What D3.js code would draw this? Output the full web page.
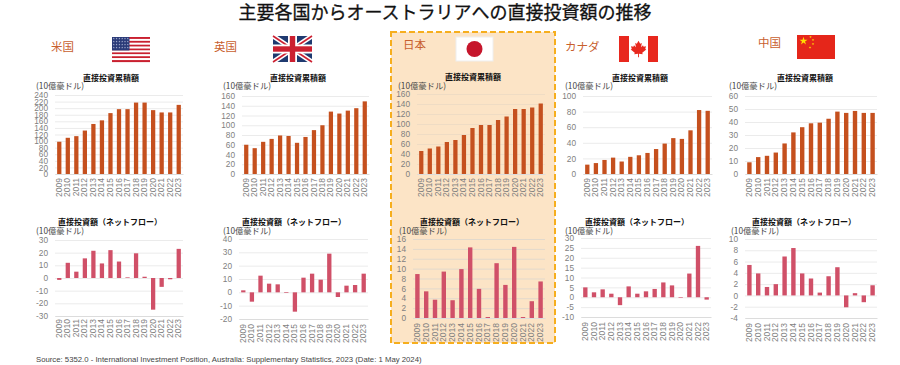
<!DOCTYPE html>
<html><head><meta charset="utf-8">
<script src="https://cdn.jsdelivr.net/npm/d3@7"></script>
<style>
html,body{margin:0;padding:0;background:#fff}
svg{display:block}
text{font-family:"Liberation Sans",Arial,sans-serif}
.jp{font-family:"Noto Sans CJK JP","Liberation Sans",sans-serif}
</style></head><body>
<svg id="c" width="900" height="365"></svg>
<script>
const years = ["2009","2010","2011","2012","2013","2014","2015","2016","2017","2018","2019","2020","2021","2022","2023"];
const usStock = [98,110,115,132,152,163,185,197,197,217,217,194,187,187,210];
const ukStock = [60,53,66,72,79,78,64,76,90,100,128,124,130,135,149];
const jpStock = [46,51,55,64,68,78,92,98,98,108,115,130,130,133,141];
const caStock = [12,14,18,21,16,22,24,27,32,39,46,45,56,82,81];
const cnStock = [9,13,14,16.5,23.5,32,36,39,39.5,42.5,48,47,48.5,47,47];
const usFlow = [-1.5,12,5,15.5,21.5,11.5,22,13,0.5,19.5,1,-25,-7,-1,23];
const ukFlow = [1.5,-7,12.5,6.5,6,-0.5,-14.5,11,14,9.5,29,-3.5,5,5.5,14];
const jpFlow = [8.9,5.4,3.7,9.4,3.6,9.9,14.3,5.9,0.2,11.1,6.7,14.4,0.2,3.4,7.4];
const caFlow = [5,2.5,4,1.8,-4,5.5,1.8,3,4.2,7.5,6,-0.3,12,26,-1.2];
const cnFlow = [5.4,3.9,1.5,2,6.9,8.4,3.9,3,0.5,3.4,5,-2.1,0.4,-1.2,1.8];
const stockTitle = "直接投資累積額";
const flowTitle = "直接投資額（ネットフロー）";
const unitLabel = "(10億豪ドル)";
const mainTitle = "主要各国からオーストラリアへの直接投資額の推移";
const sourceText = "Source: 5352.0 - International Investment Position, Australia: Supplementary Statistics, 2023 (Date: 1 May 2024)";

const stockColor = "#c5501e", flowColor = "#d05068";
const svg = d3.select("#c");

// layout
const panels = [
 {v:usStock,x0:55,x1:183,yT:95,yB:174,dom:[0,240],step:20,t:stockTitle,c:stockColor,tx:111,ty:78,ux:36,uy:86,gap:4},
 {v:ukStock,x0:242,x1:369,yT:96,yB:174,dom:[0,160],step:20,t:stockTitle,c:stockColor,tx:298,ty:78,ux:223,uy:86,gap:4},
 {v:jpStock,x0:417,x1:545,yT:94,yB:174,dom:[0,160],step:20,t:stockTitle,c:stockColor,tx:473,ty:77,ux:398,uy:86,gap:4,grid:"#efdcc4"},
 {v:caStock,x0:583,x1:712,yT:96,yB:174,dom:[0,100],step:20,t:stockTitle,c:stockColor,tx:640,ty:78,ux:565,uy:86,gap:4},
 {v:cnStock,x0:745,x1:877,yT:96,yB:174,dom:[0,60],step:10,t:stockTitle,c:stockColor,tx:805,ty:78,ux:729,uy:86,gap:4},
 {v:usFlow,x0:55,x1:183,yT:240,yB:316,dom:[-30,30],step:10,t:flowTitle,c:flowColor,tx:110,ty:222,ux:36,uy:231,gap:3},
 {v:ukFlow,x0:239,x1:368,yT:239,yB:319,dom:[-20,40],step:10,t:flowTitle,c:flowColor,tx:294,ty:222,ux:223,uy:231,gap:5},
 {v:jpFlow,x0:413,x1:545,yT:239,yB:318,dom:[0,16],step:2,t:flowTitle,c:flowColor,tx:472,ty:222,ux:399,uy:231,gap:5,grid:"#e2d9cc"},
 {v:caFlow,x0:581,x1:711,yT:238,yB:317,dom:[-10,30],step:5,t:flowTitle,c:flowColor,tx:637,ty:222,ux:565,uy:231,gap:5},
 {v:cnFlow,x0:745,x1:877,yT:239,yB:318,dom:[-4,10],step:2,t:flowTitle,c:flowColor,tx:804,ty:222,ux:731,uy:231,gap:5}
];

// Japan highlight box
svg.append("rect").attr("x",391).attr("y",32).attr("width",164).attr("height",311)
  .attr("fill","#fce4c6").attr("stroke","#f6ae1d").attr("stroke-width",2).attr("stroke-dasharray","6 3");

svg.append("text").attr("class","jp").attr("x",445).attr("y",19).attr("text-anchor","middle")
  .attr("font-size",18).attr("font-weight",400).attr("fill","#111").attr("stroke","#111").attr("stroke-width",0.3).text(mainTitle);

[["米国",51,51],["英国",214,51],["日本",403,49],["カナダ",565,51],["中国",758,47]].forEach(([n,x,y])=>{
  svg.append("text").attr("class","jp").attr("x",x).attr("y",y).attr("font-size",11.5)
    .attr("fill","#c8602e").text(n);
});

panels.forEach(p=>{
  const x = d3.scaleBand().domain(years).range([p.x0,p.x1]).paddingInner(0.5).paddingOuter(0.25);
  const y = d3.scaleLinear().domain(p.dom).range([p.yB,p.yT]);
  const ticks = d3.range(p.dom[0],p.dom[1]+p.step/2,p.step);
  const g = svg.append("g");

  const ya = g.append("g").attr("transform",`translate(${p.x0},0)`)
    .call(d3.axisLeft(y).tickValues(ticks).tickSize(-(p.x1-p.x0)).tickPadding(7).tickFormat(d=>String(d)));
  ya.select(".domain").remove();
  ya.selectAll("line").attr("stroke",p.grid||"#ebebeb").attr("stroke-width",1);
  ya.selectAll("text").attr("font-size",8.3).attr("fill","#7f7f7f");

  g.selectAll("rect.bar").data(p.v).join("rect").attr("class","bar")
    .attr("x",(d,i)=>x(years[i])).attr("width",x.bandwidth())
    .attr("y",d=>y(Math.max(0,d))).attr("height",d=>Math.abs(y(d)-y(0)))
    .attr("fill",p.c);

  const xa = g.append("g").attr("transform",`translate(0,${p.yB})`)
    .call(d3.axisBottom(x).tickSize(0).tickPadding(0));
  xa.select(".domain").attr("stroke","#dcdcdc");
  xa.selectAll("text").attr("font-size",8.5).attr("fill","#7f7f7f")
    .attr("transform","rotate(-90)").attr("text-anchor","end")
    .attr("x",-p.gap).attr("y",0).attr("dy","0.3em");

  g.append("text").attr("class","jp").attr("x",p.tx).attr("y",p.ty+3).attr("text-anchor","middle")
    .attr("font-size",8).attr("font-weight",700).attr("fill","#111").text(p.t);
  g.append("text").attr("class","jp").attr("x",p.ux).attr("y",p.uy+3)
    .attr("font-size",8.3).attr("fill","#444").text(unitLabel);
});

// flags
function usFlag(x,y,w,h){
  const g=svg.append("g").attr("transform",`translate(${x},${y})`);
  const s=h/13;
  d3.range(13).forEach(i=>g.append("rect").attr("x",0).attr("y",i*s).attr("width",w).attr("height",s+0.1).attr("fill",i%2?"#fff":"#c9202f"));
  g.append("rect").attr("width",w*0.46).attr("height",s*7).attr("fill","#2a3a78");
  const star=d3.symbol(d3.symbolStar,1.2)();
  d3.range(4).forEach(r=>d3.range(6).forEach(c=>g.append("path").attr("d",star)
    .attr("transform",`translate(${1.8+c*2.8},${1.6+r*3})`).attr("fill","#b8c0dc")));
}
function ukFlag(x,y,w,h){
  const g=svg.append("g").attr("transform",`translate(${x},${y})`);
  g.append("rect").attr("width",w).attr("height",h).attr("fill","#1f3a70");
  [[0,0,w,h],[0,h,w,0]].forEach(([a,b,c,d])=>{
    g.append("line").attr("x1",a).attr("y1",b).attr("x2",c).attr("y2",d).attr("stroke","#fff").attr("stroke-width",5);
    g.append("line").attr("x1",a).attr("y1",b).attr("x2",c).attr("y2",d).attr("stroke","#cc1f30").attr("stroke-width",1.6);
  });
  g.append("rect").attr("x",w/2-4.5).attr("width",9).attr("height",h).attr("fill","#fff");
  g.append("rect").attr("y",h/2-4.5).attr("width",w).attr("height",9).attr("fill","#fff");
  g.append("rect").attr("x",w/2-2.7).attr("width",5.4).attr("height",h).attr("fill","#cc1f30");
  g.append("rect").attr("y",h/2-2.7).attr("width",w).attr("height",5.4).attr("fill","#cc1f30");
}
function jpFlag(x,y,w,h){
  svg.append("rect").attr("x",x).attr("y",y).attr("width",w).attr("height",h).attr("fill","#fff").attr("stroke","#eee");
  svg.append("circle").attr("cx",x+w/2).attr("cy",y+h/2).attr("r",8).attr("fill","#c6162c");
}
function caFlag(x,y,w,h){
  const g=svg.append("g").attr("transform",`translate(${x},${y})`);
  g.append("rect").attr("width",w).attr("height",h).attr("fill","#fff");
  g.append("rect").attr("width",10).attr("height",h).attr("fill","#e8281e");
  g.append("rect").attr("x",w-10).attr("width",10).attr("height",h).attr("fill","#e8281e");
  const leaf="M0,-11 L2.2,-7 L4.4,-8 L3.4,-2.5 L6,-5 L6.8,-3 L10,-3.6 L9,0 L10.4,0.8 L5,5 L5.6,7 L0.6,6.4 L0.6,11 L-0.6,11 L-0.6,6.4 L-5.6,7 L-5,5 L-10.4,0.8 L-9,0 L-10,-3.6 L-6.8,-3 L-6,-5 L-3.4,-2.5 L-4.4,-8 L-2.2,-7 Z";
  g.append("path").attr("d",leaf).attr("transform",`translate(${w/2},${h/2}) scale(0.75)`).attr("fill","#e8281e");
}
function cnFlag(x,y,w,h){
  const g=svg.append("g").attr("transform",`translate(${x},${y})`);
  g.append("rect").attr("width",w).attr("height",h).attr("fill","#e5261a");
  const big=d3.symbol(d3.symbolStar,20)(), sm=d3.symbol(d3.symbolStar,2)();
  g.append("path").attr("d",big).attr("transform","translate(6.5,6)").attr("fill","#ffde00");
  [[13.5,2],[16,5],[16,9],[13,12.5]].forEach(([a,b])=>g.append("path").attr("d",sm)
    .attr("transform",`translate(${a},${b})`).attr("fill","#ffde00"));
}
usFlag(112,37,38,25);
ukFlag(273,36,39,26);
jpFlag(456,37,37,24);
caFlag(619,36,39,26);
cnFlag(797,35,38,24);

svg.append("text").attr("x",36).attr("y",362).attr("font-size",7.75).attr("fill","#444").text(sourceText);
</script>
</body></html>
